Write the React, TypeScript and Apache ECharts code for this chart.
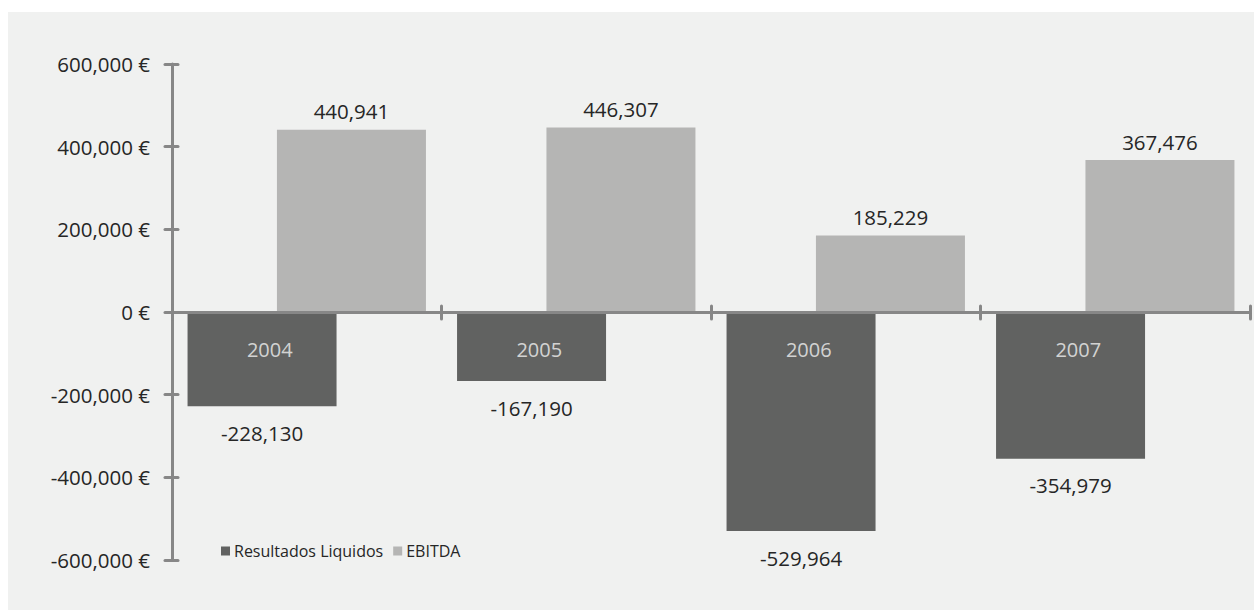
import React, { useEffect, useRef } from "react";
import * as echarts from "echarts";

const years = ["2004", "2005", "2006", "2007"];
const resultadosLiquidos = [-228130, -167190, -529964, -354979];
const ebitda = [440941, 446307, 185229, 367476];
const yearLabelAnchor = [0, 0, 0, 0];
const yMin = -600000;
const yMax = 600000;
const yStep = 200000;

const FONT = "'Open Sans', 'Noto Sans', sans-serif";
const AXIS = "#878787";
const TEXT = "#262626";

const fmt = (v: number) => v.toLocaleString("en-US");

export default function App() {
  const ref = useRef<HTMLDivElement>(null);
  useEffect(() => {
    if (!ref.current) return;
    const chart = echarts.init(ref.current, undefined, { renderer: "svg" });
    const axisLineStyle = { color: AXIS, width: 3, cap: "round" as const };
    chart.setOption({
      animation: false,
      backgroundColor: "#ffffff",
      textStyle: { fontFamily: FONT },
      graphic: [
        {
          type: "rect",
          z: -10,
          shape: { x: 8, y: 12, width: 1246, height: 598 },
          style: { fill: "#f0f1f0" },
        },
      ],
      grid: { left: 172, top: 64, width: 1078, height: 496, containLabel: false },
      legend: {
        left: 216,
        top: 538,
        icon: "rect",
        itemWidth: 9,
        itemHeight: 9,
        itemGap: 10,
        itemStyle: { borderWidth: 0 },
        textStyle: { fontFamily: FONT, fontSize: 16, color: TEXT, padding: [0, 0, 0, -1] },
        data: ["Resultados Liquidos", "EBITDA"],
      },
      xAxis: [
        {
          type: "category",
          data: years,
          z: 6,
          axisLine: { show: true, onZero: true, lineStyle: axisLineStyle },
          axisTick: { show: true, length: 7, lineStyle: axisLineStyle },
          axisLabel: { show: false },
          splitLine: { show: false },
        },
        {
          type: "category",
          data: years,
          position: "bottom",
          z: 6,
          axisLine: { show: false, onZero: true },
          axisTick: { show: true, inside: true, length: 6, lineStyle: axisLineStyle },
          axisLabel: { show: false },
          splitLine: { show: false },
        },
      ],
      yAxis: [
        {
          type: "value",
          min: yMin,
          max: yMax,
          interval: yStep,
          z: 6,
          axisLine: { show: true, lineStyle: axisLineStyle },
          axisTick: { show: true, length: 7, lineStyle: axisLineStyle },
          axisLabel: {
            color: TEXT,
            fontFamily: FONT,
            fontSize: 20.5,
            margin: 22,
            formatter: (v: number) => `${fmt(v)} €`,
          },
          splitLine: { show: false },
        },
        {
          type: "value",
          min: yMin,
          max: yMax,
          interval: yStep,
          position: "left",
          z: 6,
          axisLine: { show: false },
          axisTick: { show: true, inside: true, length: 6, lineStyle: axisLineStyle },
          axisLabel: { show: false },
          splitLine: { show: false },
        },
      ],
      series: [
        {
          name: "Resultados Liquidos",
          type: "bar",
          data: resultadosLiquidos,
          barWidth: 149,
          barGap: "-40%",
          itemStyle: { color: "#616261" },
          label: {
            show: true,
            position: "bottom",
            distance: 16,
            color: TEXT,
            fontFamily: FONT,
            fontSize: 20.5,
            formatter: (p: any) => fmt(p.value),
          },
        },
        {
          name: "EBITDA",
          type: "bar",
          data: ebitda,
          barWidth: 149,
          barGap: "-40%",
          itemStyle: { color: "#b5b5b4" },
          label: {
            show: true,
            position: "top",
            distance: 8,
            color: TEXT,
            fontFamily: FONT,
            fontSize: 20.5,
            formatter: (p: any) => fmt(p.value),
          },
        },
        {
          name: "years",
          type: "scatter",
          data: yearLabelAnchor,
          symbolSize: 0,
          z: 10,
          silent: true,
          label: {
            show: true,
            position: "inside",
            offset: [-37, 37],
            color: "#f2f2f2",
            fontFamily: FONT,
            fontSize: 20,
            formatter: (p: any) => p.name,
          },
        },
      ],
    });
    return () => chart.dispose();
  }, []);
  return (
    <div
      ref={ref}
      style={{ position: "fixed", left: 0, top: 0, width: 1254, height: 611 }}
    />
  );
}
